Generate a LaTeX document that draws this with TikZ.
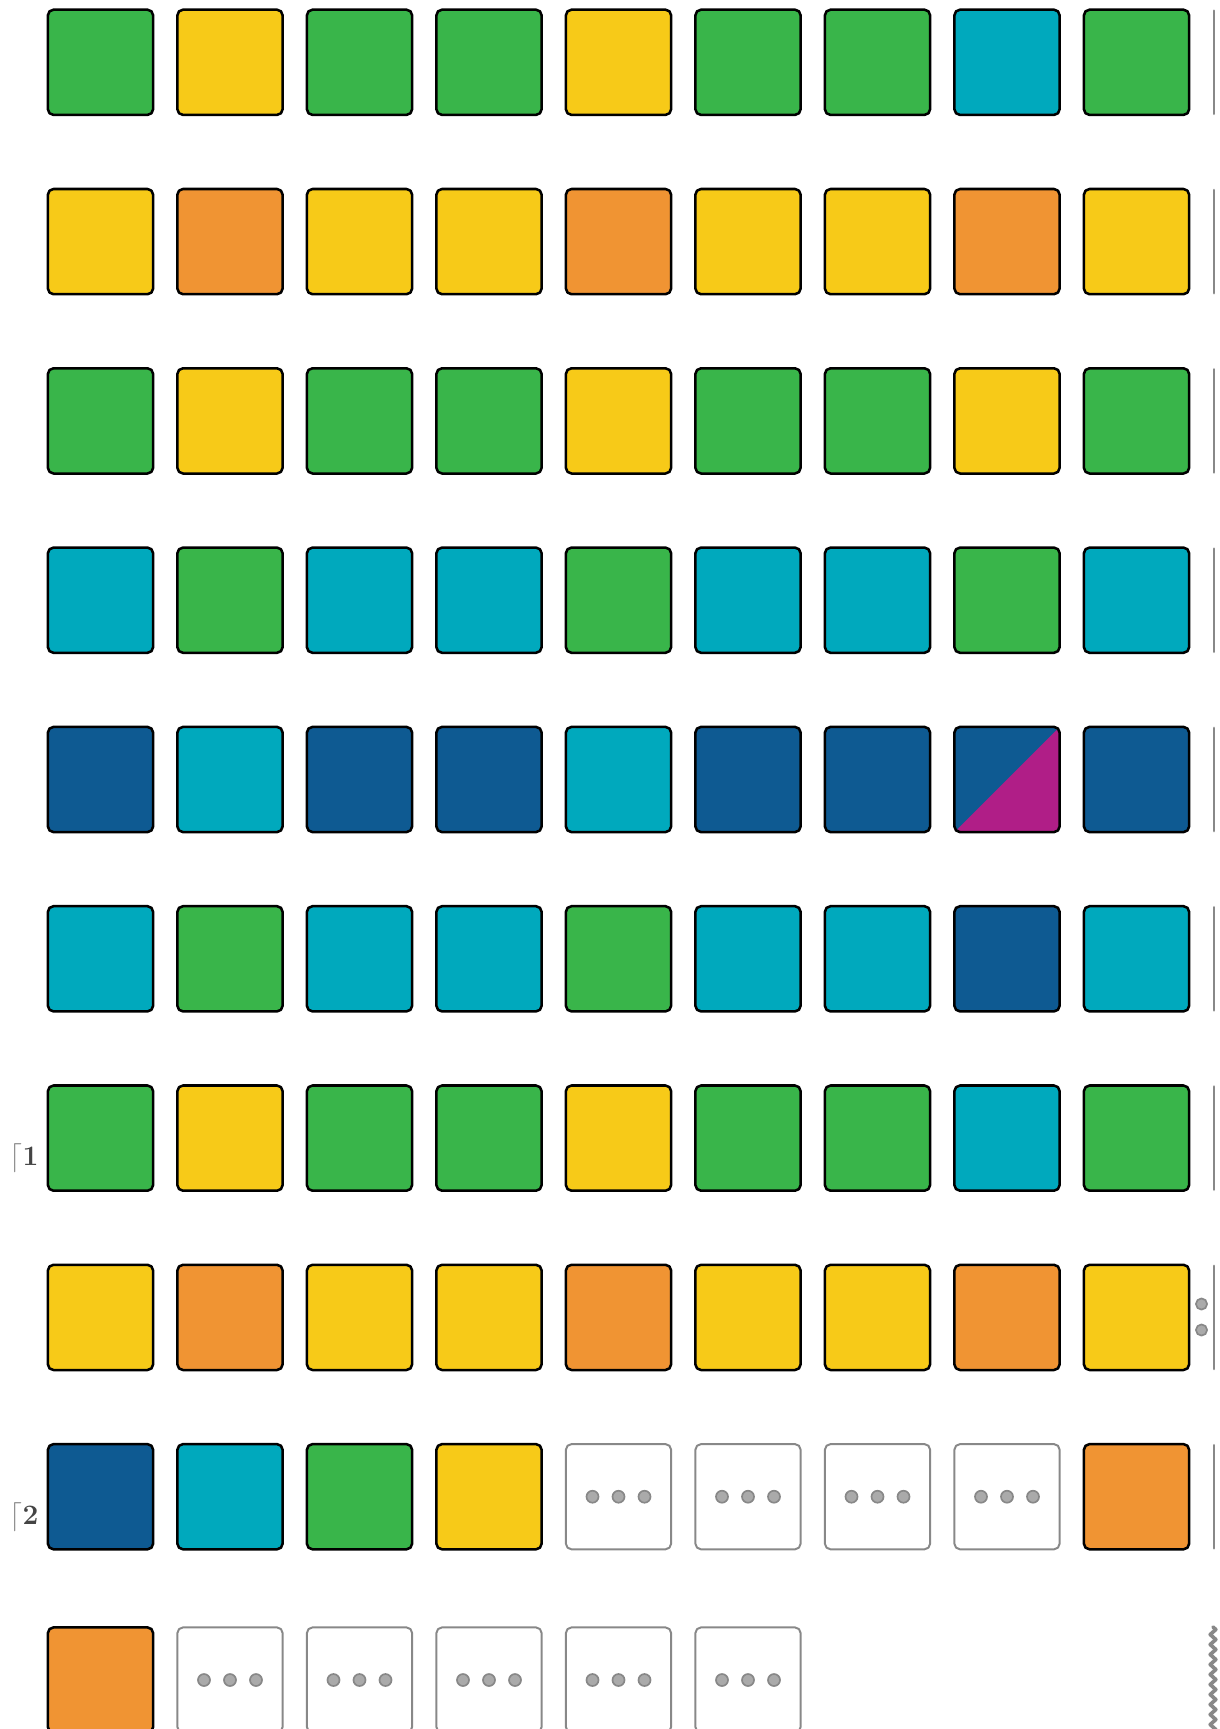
\documentclass[tikz,border=0pt]{standalone}
\usepackage{tikz}
\usepackage{xcolor}
\usetikzlibrary{decorations.pathmorphing}

\definecolor{tgreen}{HTML}{39B54A}
\definecolor{tyellow}{HTML}{F7CA18}
\definecolor{tcyan}{HTML}{00A9BD}
\definecolor{torange}{HTML}{F09433}
\definecolor{tblue}{HTML}{0E5A92}
\definecolor{tmagenta}{HTML}{B01E87}
\definecolor{tgray}{HTML}{888888}
\definecolor{tdot}{HTML}{AAAAAA}
\definecolor{tdark}{HTML}{444444}

\begin{document}
\begin{tikzpicture}[x=0.025cm, y=-0.025cm, line cap=round, line join=round,
  tile/.style={draw=black, line width=1.8pt, rounded corners=4pt,
    minimum size=2.63cm, inner sep=0pt},
  grn/.style={tile, fill=tgreen},
  yel/.style={tile, fill=tyellow},
  cyn/.style={tile, fill=tcyan},
  org/.style={tile, fill=torange},
  blu/.style={tile, fill=tblue},
  mix/.style={tile, fill=tblue, path picture={
      \fill[tmagenta] (path picture bounding box.south west)
        -- (path picture bounding box.north east)
        -- (path picture bounding box.south east) -- cycle;}},
  dots/.style={draw=tgray, line width=1.4pt, fill=white, rounded corners=4pt,
    minimum size=2.63cm, inner sep=0pt, path picture={
      \foreach \d in {-26,0,26}
        \filldraw[fill=tdot, draw=tgray, line width=1.2pt]
          ([xshift=\d*0.025cm]path picture bounding box.center) circle (0.15cm);}},
  rowbar/.style={draw=tgray, line width=2pt},
  pip/.style={circle, fill=tdot, draw=tgray, line width=1.2pt, inner sep=0pt, minimum size=0.28cm},
  tag/.style={text=tdark, font=\fontsize{20}{22}\selectfont\bfseries, inner sep=0pt}]

\useasboundingbox (0,0) rectangle (1220,1729);

% --- Griglia delle tessere ---
\foreach \r/\cl in {
    0/{grn,yel,grn,grn,yel,grn,grn,cyn,grn},
    1/{yel,org,yel,yel,org,yel,yel,org,yel},
    2/{grn,yel,grn,grn,yel,grn,grn,yel,grn},
    3/{cyn,grn,cyn,cyn,grn,cyn,cyn,grn,cyn},
    4/{blu,cyn,blu,blu,cyn,blu,blu,mix,blu},
    5/{cyn,grn,cyn,cyn,grn,cyn,cyn,blu,cyn},
    6/{grn,yel,grn,grn,yel,grn,grn,cyn,grn},
    7/{yel,org,yel,yel,org,yel,yel,org,yel},
    8/{blu,cyn,grn,yel,dots,dots,dots,dots,org}}
  \foreach \c [count=\k from 0] in \cl
    \node[\c] (t-\r-\k) at (100.5+129.5*\k, 62.3+179.3*\r) {};

% ultima riga, tagliata in basso
\foreach \c [count=\k from 0] in {org,dots,dots,dots,dots,dots}
  \node[\c] (t-9-\k) at (100.5+129.5*\k, 1680) {};

% --- Barre a destra ---
\foreach \r in {0,...,8}
  \draw[rowbar] (1214, 10.8+179.3*\r) -- ++(0,103);

\node[pip] (p-1) at (1201.5,1304) {};
\node[pip] (p-2) at (1201.5,1330) {};

\draw[rowbar, line width=2.6pt, decorate,
  decoration={zigzag, segment length=0.25cm, amplitude=0.07cm}]
  (1213,1627) -- (1213,1735);

% --- Etichette ---
\node[tag] (lab-1) at (24,1158) {{\color{tgray}$\lceil$}1};
\node[tag] (lab-2) at (24,1517) {{\color{tgray}$\lceil$}2};
\end{tikzpicture}
\end{document}
